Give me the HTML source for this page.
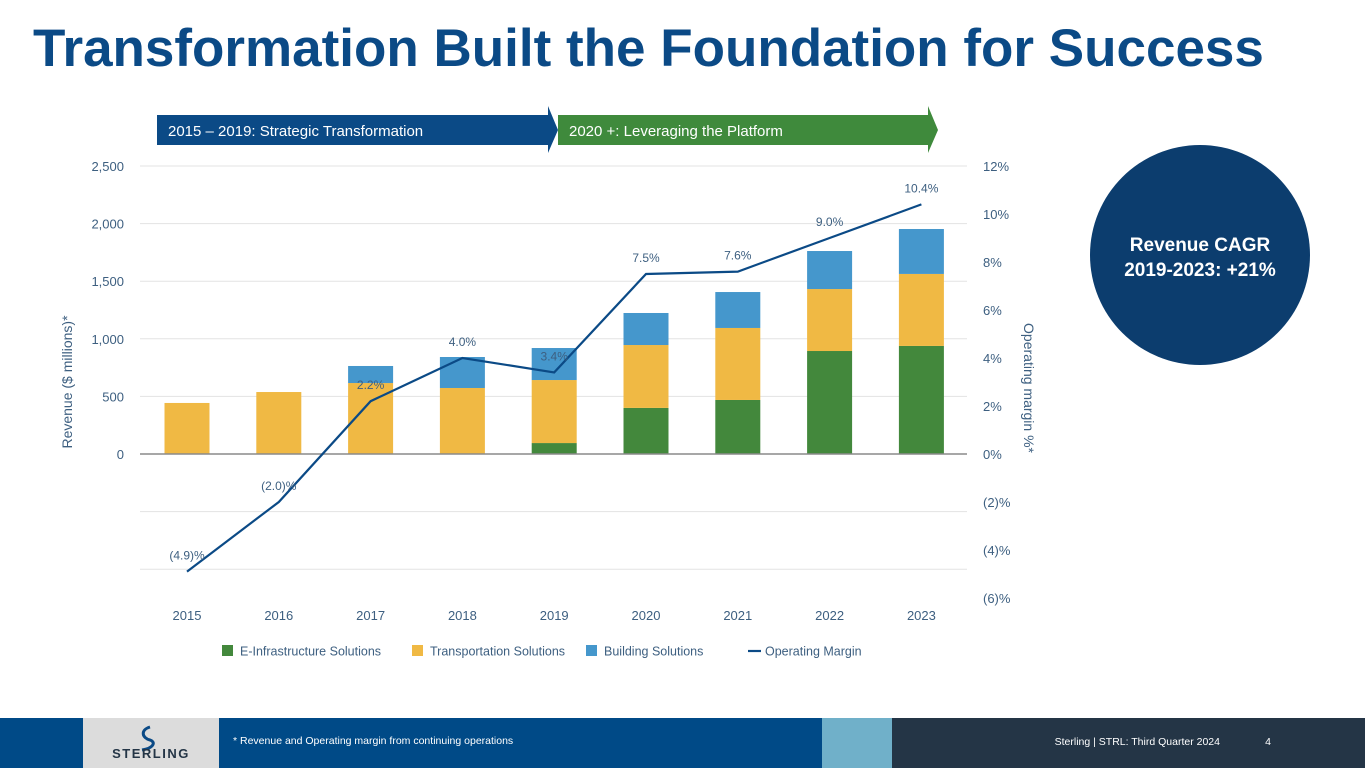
<!DOCTYPE html>
<html><head><meta charset="utf-8">
<style>
body{margin:0;width:1365px;height:768px;overflow:hidden;background:#fff;font-family:"Liberation Sans",sans-serif;position:relative}
#title{position:absolute;left:33px;top:18px;font-size:53px;font-weight:bold;color:#0b4a86;letter-spacing:0;white-space:nowrap}
svg{position:absolute;left:0;top:0}
</style></head><body>
<div id="title">Transformation Built the Foundation for Success</div>
<svg id="chart" width="1365" height="768"></svg>
<script>
const years=["2015","2016","2017","2018","2019","2020","2021","2022","2023"];
const eInfra=[0,0,0,0,95,400,469,894,938];
const transport=[443,538,616,573,547,546,625,538,625];
const building=[0,0,148,269,278,278,312,330,390];
const margin=[-4.9,-2.0,2.2,4.0,3.4,7.5,7.6,9.0,10.4];
const marginLabels=["(4.9)%","(2.0)%","2.2%","4.0%","3.4%","7.5%","7.6%","9.0%","10.4%"];
const leftTicks=[0,500,1000,1500,2000,2500];
const leftTickLabels=["0","500","1,000","1,500","2,000","2,500"];
const rightTicks=[12,10,8,6,4,2,0,-2,-4,-6];
const rightTickLabels=["12%","10%","8%","6%","4%","2%","0%","(2)%","(4)%","(6)%"];

const NS="http://www.w3.org/2000/svg";
const svg=document.getElementById('chart');
function el(tag,attrs,parent){const e=document.createElementNS(NS,tag);for(const k in attrs)e.setAttribute(k,attrs[k]);(parent||svg).appendChild(e);return e;}
const y0=454, yTop=166;
const yRev=v=>y0-(v/2500)*(y0-yTop);
const yPct=v=>y0-(v/12)*(y0-yTop);
const xC=i=>187+i*91.8;
const bw=45;
const axisCol="#3d5f80";

let g=el('polygon',{points:"157,115 548,115 548,106 558,130 548,153 548,145 157,145",fill:"#0b4a86"});

let t=el('text',{x:168,y:136,fill:"#fff","font-size":15});t.textContent="2015 – 2019: Strategic Transformation";

g=el('polygon',{points:"558,115 928,115 928,106 938,130 928,153 928,145 558,145",fill:"#3f8a3c"});

t=el('text',{x:569,y:136,fill:"#fff","font-size":15});t.textContent="2020 +: Leveraging the Platform";


[...leftTicks,-500,-1000].forEach(v=>{
  const l=el('line',{x1:140,x2:967,y1:yRev(v),y2:yRev(v),stroke:"#e3e3e3","stroke-width":1});
  
});
leftTicks.forEach((v,i)=>{
  const tx=el('text',{x:124,y:yRev(v)+5,fill:axisCol,"font-size":13,"text-anchor":"end"});tx.textContent=leftTickLabels[i];
  
});
rightTicks.forEach((v,i)=>{
  const tx=el('text',{x:983,y:yPct(v)+5,fill:axisCol,"font-size":13});tx.textContent=rightTickLabels[i];
  
});
t=el('text',{x:0,y:0,fill:axisCol,"font-size":14,"text-anchor":"middle",transform:"translate(72,382) rotate(-90)"});t.textContent="Revenue ($ millions)*";

t=el('text',{x:0,y:0,fill:axisCol,"font-size":14,"text-anchor":"middle",transform:"translate(1024,388) rotate(90)"});t.textContent="Operating margin  %*";


years.forEach((yr,i)=>{
  const segs=[[eInfra[i],"#43883c","e-infra"],[transport[i],"#f0b944","transport"],[building[i],"#4597cc","building"]];
  let base=0;
  segs.forEach(s=>{
    if(s[0]>0){
      const r=el('rect',{x:xC(i)-bw/2,y:yRev(base+s[0]),width:bw,height:yRev(base)-yRev(base+s[0]),fill:s[1]});
      
    }
    base+=s[0];
  });
  const tx=el('text',{x:xC(i),y:620,fill:axisCol,"font-size":13,"text-anchor":"middle"});tx.textContent=yr;
  
});
const ax=el('line',{x1:140,x2:967,y1:y0,y2:y0,stroke:"#8a8a8a","stroke-width":1.5});


const pl=el('polyline',{points:margin.map((m,i)=>xC(i)+","+yPct(m)).join(" "),fill:"none",stroke:"#0b4a86","stroke-width":2.2});

margin.forEach((m,i)=>{
  const tx=el('text',{x:xC(i),y:yPct(m)-12,fill:axisCol,"font-size":12,"text-anchor":"middle"});tx.textContent=marginLabels[i];
  
});

const leg=[["#43883c","E-Infrastructure Solutions",222,"rect"],["#f0b944","Transportation Solutions",412,"rect"],["#4597cc","Building Solutions",586,"rect"],["#0b4a86","Operating Margin",748,"line"]];
leg.forEach(L=>{
  if(L[3]=="rect"){const r=el('rect',{x:L[2],y:645,width:11,height:11,fill:L[0]});}
  else{const l=el('line',{x1:L[2],x2:L[2]+13,y1:651,y2:651,stroke:L[0],"stroke-width":2.2});}
  const tx=el('text',{x:L[2]+(L[3]=="rect"?18:17),y:655.5,fill:axisCol,"font-size":12.5});tx.textContent=L[1];
  
});

const c=el('circle',{cx:1200,cy:255,r:110,fill:"#0c3d6e"});
t=el('text',{x:1200,y:251,fill:"#fff","font-size":19,"font-weight":"bold","text-anchor":"middle"});t.textContent="Revenue CAGR";

t=el('text',{x:1200,y:276,fill:"#fff","font-size":19,"font-weight":"bold","text-anchor":"middle"});t.textContent="2019-2023: +21%";


let f=el('rect',{x:0,y:718,width:822,height:50,fill:"#004a87"});
f=el('rect',{x:822,y:718,width:70,height:50,fill:"#70b0c9"});
f=el('rect',{x:892,y:718,width:473,height:50,fill:"#243546"});
f=el('rect',{x:83,y:718,width:136,height:50,fill:"#dcdcdc"});
f=el('path',{d:"M150,727 C140,730 142,738 150,740 C156,742 154,748 142,750",fill:"none",stroke:"#0b4a86","stroke-width":3});
t=el('text',{x:151,y:758,fill:"#243546","font-size":13,"font-weight":"bold","text-anchor":"middle","letter-spacing":"1.5"});t.textContent="STERLING";

t=el('text',{x:233,y:744,fill:"#fff","font-size":10.5});t.textContent="* Revenue and Operating margin from continuing operations";

t=el('text',{x:1220,y:745,fill:"#fff","font-size":10.5,"text-anchor":"end"});t.textContent="Sterling | STRL:  Third Quarter 2024";

t=el('text',{x:1268,y:745,fill:"#fff","font-size":10.5,"text-anchor":"middle"});t.textContent="4";

</script>
</body></html>
